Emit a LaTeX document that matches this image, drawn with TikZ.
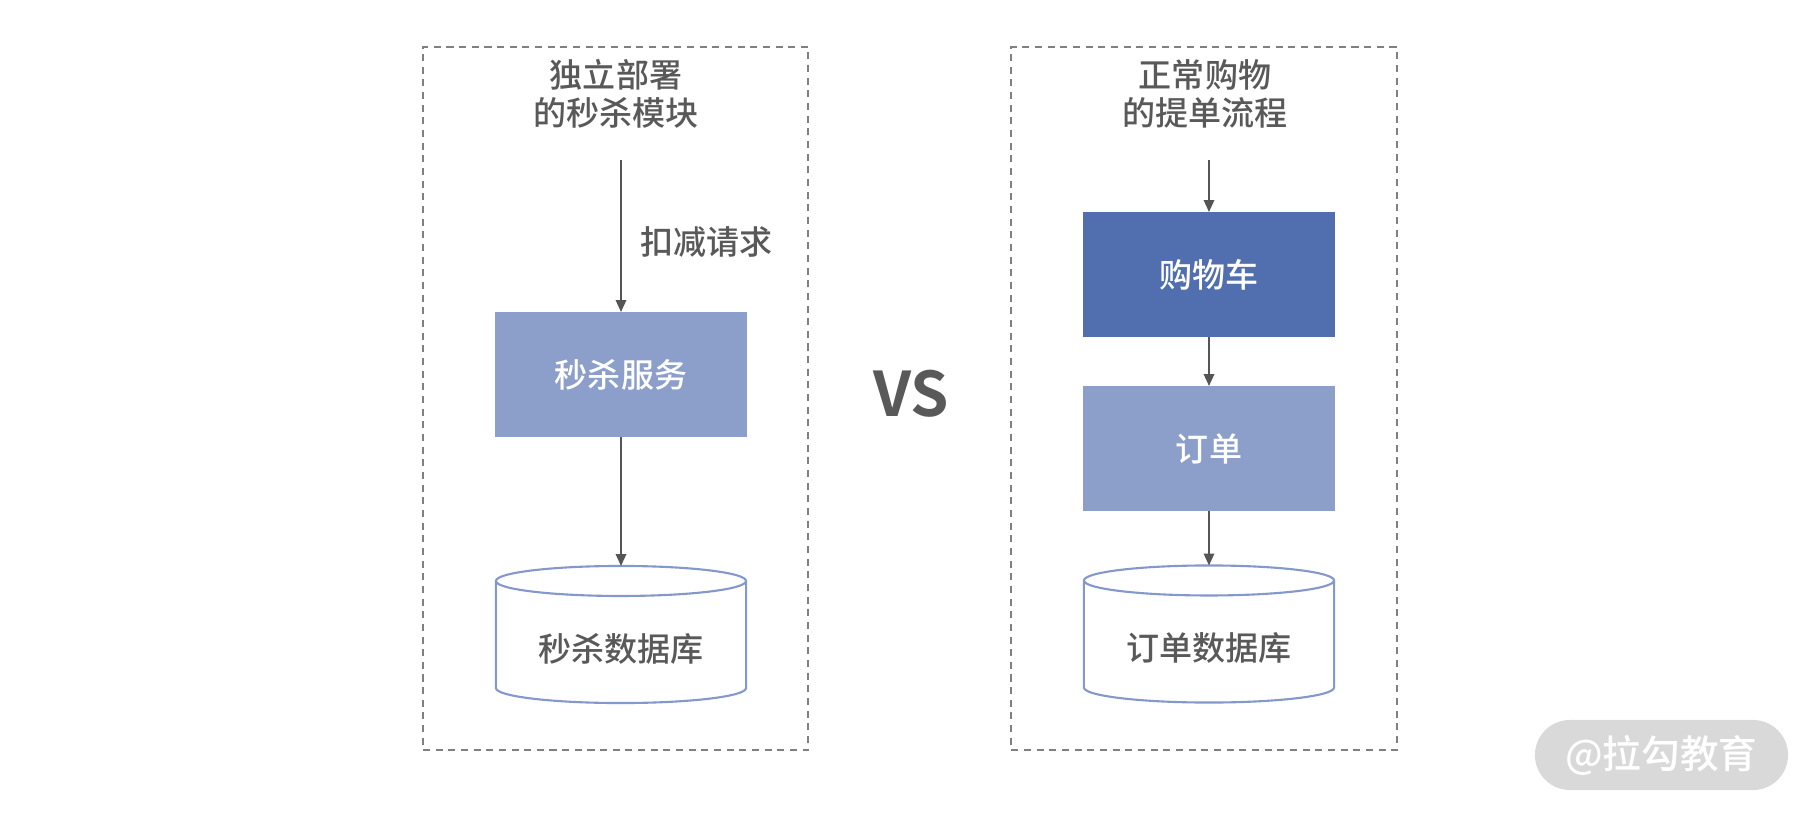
\documentclass[tikz,border=0pt]{standalone}
\usepackage{fontspec}
\setmainfont{Noto Sans CJK SC}[UprightFont={* Medium}, BoldFont={* Bold}]
\usetikzlibrary{arrows.meta,positioning,backgrounds}
\definecolor{txtgray}{HTML}{595959}
\definecolor{linegray}{HTML}{555555}
\definecolor{dashgray}{HTML}{808080}
\definecolor{lightblue}{HTML}{8C9FCA}
\definecolor{darkblue}{HTML}{516FAE}
\definecolor{dbline}{HTML}{8598CC}
\definecolor{markgray}{HTML}{D9D9D9}
\tikzstyle{group}=[rectangle, draw=dashgray, line width=0.6pt, dash pattern=on 2pt off 1.6pt,
  minimum width=3.85cm, minimum height=7.03cm, outer sep=0]
\tikzstyle{title}=[text=txtgray, align=center, font=\fontsize{9.4}{10.8}\selectfont]
\tikzstyle{svc}=[rectangle, fill=lightblue, text=white, minimum width=2.52cm, minimum height=1.25cm,
  outer sep=0, font=\fontsize{9.4}{11}\selectfont]
\tikzstyle{db}=[rectangle, minimum width=2.5cm, minimum height=1.37cm, outer sep=0]
\tikzstyle{dbtext}=[text=txtgray, font=\fontsize{9.4}{11}\selectfont, yshift=-0.14cm]
\tikzstyle{arrow}=[-{Triangle[length=3.4pt,width=3pt]}, draw=linegray, line width=0.45pt]

\begin{document}
\begin{tikzpicture}[x=0.01cm, y=-0.01cm]
\useasboundingbox (0,0) rectangle (1814,815);
% left: seckill module
\node (leftgrp) [group] at (615.5,398.5) {};
\node (lefttitle) [title] at (616,94) {独立部署\\的秒杀模块};
\coordinate (in1) at (621,160);
\node (seckill) [svc] at (621,374.5) {秒杀服务};
\node (db1) [db, label={[dbtext]center:秒杀数据库}] at (621,634.5) {};
\begin{scope}[on background layer]
\draw[dbline, fill=white, line width=0.6pt] ([yshift=-0.15cm]db1.north west) -- ([yshift=0.15cm]db1.south west)
  arc[start angle=180, end angle=360, x radius=1.25cm, y radius=0.15cm] -- ([yshift=-0.15cm]db1.north east)
  arc[start angle=0, end angle=180, x radius=1.25cm, y radius=0.15cm] -- cycle;
\draw[dbline, line width=0.6pt] ([yshift=-0.15cm]db1.north west)
  arc[start angle=180, end angle=360, x radius=1.25cm, y radius=0.15cm];
\end{scope}
\draw[arrow] (in1) -- node[pos=0.54, anchor=west, xshift=0.07cm, title]{扣减请求} (seckill.north);
\draw[arrow] (seckill) -- (db1);

% middle
\node (vs) [text=txtgray, font=\fontsize{17.5}{20}\selectfont\bfseries] at (911,394) {VS};

% right: normal order flow
\node (rightgrp) [group] at (1204,398.5) {};
\node (righttitle) [title] at (1205,94) {正常购物\\的提单流程};
\coordinate (in2) at (1209,160);
\node (cart) [svc, fill=darkblue] at (1209,274.5) {购物车};
\node (order) [svc] at (1209,448.5) {订单};
\node (db2) [db, label={[dbtext]center:订单数据库}] at (1209,634) {};
\begin{scope}[on background layer]
\draw[dbline, fill=white, line width=0.6pt] ([yshift=-0.15cm]db2.north west) -- ([yshift=0.15cm]db2.south west)
  arc[start angle=180, end angle=360, x radius=1.25cm, y radius=0.15cm] -- ([yshift=-0.15cm]db2.north east)
  arc[start angle=0, end angle=180, x radius=1.25cm, y radius=0.15cm] -- cycle;
\draw[dbline, line width=0.6pt] ([yshift=-0.15cm]db2.north west)
  arc[start angle=180, end angle=360, x radius=1.25cm, y radius=0.15cm];
\end{scope}
\draw[arrow] (in2) -- (cart.north);
\draw[arrow] (cart) -- (order);
\draw[arrow] (order) -- (db2);

% watermark
\node (mark) [fill=markgray, text=white, rounded corners=0.35cm, minimum width=2.53cm, minimum height=0.7cm,
  font=\fontsize{11}{13}\selectfont] at (1661.5,755) {@拉勾教育};
\end{tikzpicture}
\end{document}
